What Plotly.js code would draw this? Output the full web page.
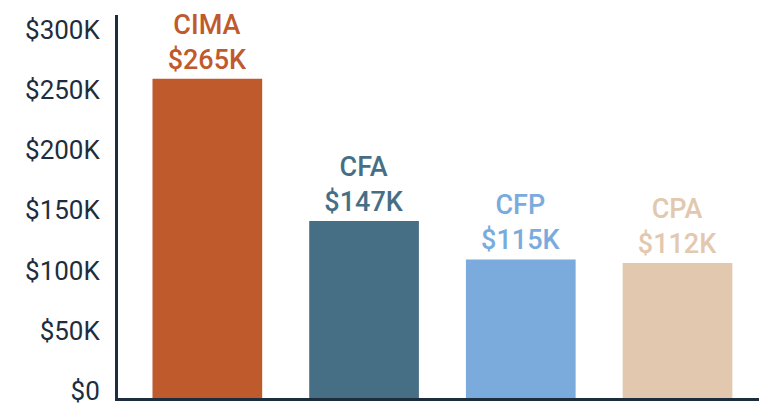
<!DOCTYPE html>
<html>
<head>
<meta charset="utf-8">
<script src="https://cdn.plot.ly/plotly-3.0.1.min.js"></script>
<style>html,body{margin:0;padding:0;background:#fff;}#chart{width:759px;height:403px;}</style>
</head>
<body>
<div id="chart"></div>
<script>
const categories = ["CIMA", "CFA", "CFP", "CPA"];
const salaries = [265000, 147000, 115000, 112000];
const barColors = ["#BF5A2C", "#466F86", "#7AABDC", "#E2C8AE"];
const tickValues = [0, 50000, 100000, 150000, 200000, 250000, 300000];
const tickLabels = ["$0", "$50K", "$100K", "$150K", "$200K", "$250K", "$300K"];

const labels = categories.map((c, i) => c + "<br>$" + Math.round(salaries[i] / 1000) + "K");

const trace = {
  type: "bar",
  x: categories,
  y: salaries,
  width: 0.7,
  marker: { color: barColors },
  text: labels,
  textposition: "outside",
  textangle: 0,
  constraintext: "none",
  cliponaxis: false,
  outsidetextfont: { family: "Roboto, sans-serif", size: 27, color: barColors, weight: 500 },
  hoverinfo: "none"
};

const layout = {
  width: 759,
  height: 403,
  margin: { l: 118, r: 0, t: 15, b: 5 },
  paper_bgcolor: "#ffffff",
  plot_bgcolor: "#ffffff",
  showlegend: false,
  xaxis: {
    type: "category",
    range: [-0.57, 3.52],
    showticklabels: false,
    ticks: "",
    showgrid: false,
    zeroline: false,
    showline: true,
    linecolor: "#1E2D3D",
    linewidth: 3
  },
  yaxis: {
    range: [0, 318000],
    tickvals: tickValues,
    ticktext: tickLabels,
    ticks: "",
    showgrid: false,
    zeroline: false,
    showline: true,
    linecolor: "#1E2D3D",
    linewidth: 3,
    ticklabelstandoff: 10,
    ticklabelshift: -7,
    ticklabeloverflow: "allow",
    tickfont: { family: "Roboto, sans-serif", size: 26, color: "#1E2D3D" }
  }
};

Plotly.newPlot("chart", [trace], layout, { staticPlot: true, displayModeBar: false });
</script>
</body>
</html>
